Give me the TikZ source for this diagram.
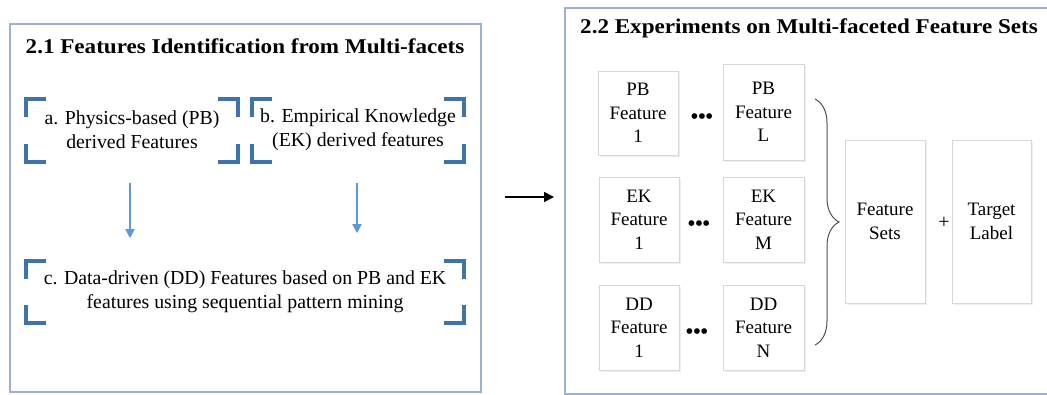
\documentclass[tikz,border=0pt]{standalone}
\usepackage{fontspec}
\setmainfont{Liberation Serif}
\newfontfamily\ttlfont[FakeStretch=1.1]{Liberation Serif}
\usetikzlibrary{arrows.meta,decorations.pathreplacing,shadows}
\definecolor{frameblue}{HTML}{9AB1D1}
\definecolor{brkblue}{HTML}{3F73AC}
\definecolor{arrblue}{HTML}{5B9BD5}
\definecolor{fborder}{HTML}{D4D8DE}
\definecolor{bracegray}{HTML}{505050}
\begin{document}
\begin{tikzpicture}[x=1pt,y=-1pt,
  frame/.style={draw=frameblue,line width=1.5pt,inner sep=0pt},
  titletext/.style={font=\ttlfont\fontsize{21}{24}\selectfont\bfseries,inner sep=0pt},
  bodytext/.style={font=\fontsize{19.8}{24}\selectfont},
  brk/.style={draw=brkblue,line width=4pt,line cap=butt,line join=miter},
  bracketbox/.style 2 args={minimum width=#1,minimum height=#2,inner sep=0pt,align=center,bodytext,
    path picture={
      \draw[brk] ([xshift=22pt,yshift=-2pt]path picture bounding box.north west) -| ([xshift=2pt,yshift=-20pt]path picture bounding box.north west);
      \draw[brk] ([xshift=-22pt,yshift=-2pt]path picture bounding box.north east) -| ([xshift=-2pt,yshift=-20pt]path picture bounding box.north east);
      \draw[brk] ([xshift=22pt,yshift=2pt]path picture bounding box.south west) -| ([xshift=2pt,yshift=20pt]path picture bounding box.south west);
      \draw[brk] ([xshift=-22pt,yshift=2pt]path picture bounding box.south east) -| ([xshift=-2pt,yshift=20pt]path picture bounding box.south east);
    }},
  barrow/.style={draw=arrblue,line width=1.8pt,-{Triangle[length=9pt,width=9pt]}},
  karrow/.style={draw=black,line width=1.5pt,-{Triangle[length=10pt,width=10pt]}},
  fbox/.style={draw=fborder,fill=white,line width=0.8pt,inner sep=0pt,align=center,
    font=\fontsize{19}{23.5}\selectfont,
    drop shadow={shadow xshift=1.5pt,shadow yshift=-1.5pt,fill=black!13}},
  dots/.style={font=\fontsize{21}{21}\selectfont\bfseries,inner sep=0pt},
  bracestyle/.style={draw=bracegray,line width=1pt,decorate,decoration={brace,amplitude=24pt}}
]
\useasboundingbox (0,0) rectangle (1047,394);
\fill[white] (0,0) rectangle (1047,394);

% left panel
\node[frame,minimum width=471pt,minimum height=368pt] (left) at (245.5,208) {};
\node[titletext] (t1) at (245,46) {2.1 Features Identification from Multi-facets};
\node[bracketbox={216pt}{67pt}] (pa) at (132,130) {a. Physics-based (PB)\\derived Features};
\node[bracketbox={216pt}{67pt}] (pb) at (358,130) {b. Empirical Knowledge\\(EK) derived features};
\node[bracketbox={442pt}{66pt}] (pc) at (245,292) {c. Data-driven (DD) Features based on PB and EK\\features using sequential pattern mining};
\draw[barrow] ([xshift=-2pt,yshift=-19.5pt]pa.south) -- ([xshift=-2pt,yshift=-74.5pt]pa.south);
\draw[barrow] ([xshift=-1pt,yshift=-19.5pt]pb.south) -- ([xshift=-1pt,yshift=-69.5pt]pb.south);

% connecting arrow
\coordinate (as) at (505,197);
\coordinate (ae) at (554,197);
\draw[karrow] (as) -- (ae);

% right panel
\node[frame,minimum width=520pt,minimum height=386pt,anchor=north west] (right) at (564,7) {};
\node[titletext,anchor=west] (t2) at (580,28) {2.2 Experiments on Multi-faceted Feature Sets};

\node[fbox,minimum width=80pt,minimum height=84pt] (pb1) at (638,113) {PB\\Feature\\1};
\node[fbox,minimum width=81pt,minimum height=96pt] (pbl) at (763.5,112) {PB\\Feature\\L};
\node[fbox,minimum width=80pt,minimum height=85pt] (ek1) at (639,219.5) {EK\\Feature\\1};
\node[fbox,minimum width=81pt,minimum height=85pt] (ekm) at (763.5,219.5) {EK\\Feature\\M};
\node[fbox,minimum width=80pt,minimum height=85pt] (dd1) at (639,327.5) {DD\\Feature\\1};
\node[fbox,minimum width=81pt,minimum height=85pt] (ddn) at (763.5,327.5) {DD\\Feature\\N};

\node[dots] (d1) at (702,119) {•••};
\node[dots] (d2) at (699,226) {•••};
\node[dots] (d3) at (697,334) {•••};

\coordinate (bt) at (815,99);
\coordinate (bb) at (815,345);
\draw[bracestyle] (bt) -- (bb);

\node[fbox,minimum width=80pt,minimum height=163pt] (fs) at (885,221.5) {Feature\\Sets};
\node[fbox,minimum width=79pt,minimum height=163pt] (tl) at (991.5,221.5) {Target\\Label};
\node[font=\fontsize{20}{20}\selectfont,inner sep=0pt] (plus) at (944,223) {+};
\end{tikzpicture}
\end{document}
